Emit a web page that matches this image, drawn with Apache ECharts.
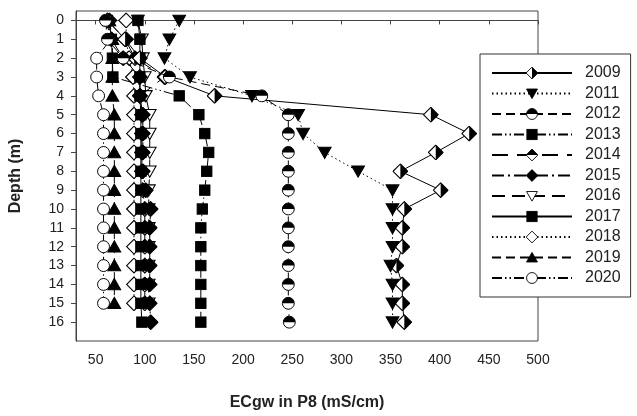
<!DOCTYPE html>
<html><head><meta charset="utf-8">
<script src="https://cdn.jsdelivr.net/npm/echarts@6/dist/echarts.min.js"></script>
<style>html,body{margin:0;padding:0;background:#fff}#c{width:637px;height:416px}</style>
</head><body><div id="c"></div>
<script>
const depths = [0,1,2,3,4,5,6,7,8,9,10,11,12,13,14,15,16];
const xTicks = [50,100,150,200,250,300,350,400,450,500];
const yTicks = [0,1,2,3,4,5,6,7,8,9,10,11,12,13,14,15,16];
const years = ['2009','2011','2012','2013','2014','2015','2016','2017','2018','2019','2020'];
const ec2009 = [62,80,95,121,171,391,430,396,360,401,364,362,362,356,362,362,364];
const ec2011 = [135,125,120,146,209,256,261,283,317,352,352,352,352,350,352,352,352];
const ec2012 = [60,62,78,125,219,246,246,246,246,246,246,246,246,246,246,246,247];
const ec2013 = [62,66,67,67.5,135,155,161,165,163,161,158.5,157,157,157,157,157,157];
const ec2014 = [62,80,90,120,95,97,97,97,97,98,100,100,100,100,100,100,null];
const ec2015 = [64,66,78,95,95,98,98,98,98,101,106,105,105,105,105,105,106];
const ec2016 = [93,97,98,100,101,105,105,105,105,104,104,104,104,104,104,104,null];
const ec2017 = [93,95,95,95,95,96,96,96,96,96,96,96,96,96,96,96,97];
const ec2018 = [81,81,84,88,89,89,89,89,89,89,89,89,89,89,89,89,null];
const ec2019 = [64,67,67,67,67,69,69,69,69,69,69,69,69,69,69,69,null];
const ec2020 = [61,65,51,51,53,58,58,58,58,58,58,58,58,58,58,58,null];
const seriesValues = [ec2009,ec2011,ec2012,ec2013,ec2014,ec2015,ec2016,ec2017,ec2018,ec2019,ec2020];

function svg(inner){
  return 'image://data:image/svg+xml;charset=utf-8,' + encodeURIComponent(
    '<svg xmlns="http://www.w3.org/2000/svg" width="40" height="40" viewBox="0 0 20 20">' + inner + '</svg>');
}
const D = '10,0.8 19.2,10 10,19.2 0.8,10';
const SW = 'stroke="#000" stroke-width="1.4" stroke-linejoin="miter"';
const sym = {
  '2009': svg(`<polygon points="${D}" fill="#fff"/><polygon points="10,0.8 19.2,10 10,19.2" fill="#000"/><polygon points="${D}" fill="none" ${SW}/>`),
  '2011': svg(`<polygon points="1.5,3 18.5,3 10,18" fill="#000" ${SW}/>`),
  '2012': svg(`<circle cx="10" cy="10" r="8.5" fill="#fff"/><path d="M1.5,10 A8.5,8.5 0 0 1 18.5,10 Z" fill="#000"/><circle cx="10" cy="10" r="8.5" fill="none" ${SW}/>`),
  '2013': svg(`<rect x="2" y="2" width="16" height="16" fill="#000" ${SW}/>`),
  '2014': svg(`<polygon points="${D}" fill="#fff"/><polygon points="0.8,10 10,0.8 19.2,10" fill="#000"/><polygon points="${D}" fill="none" ${SW}/>`),
  '2015': svg(`<polygon points="${D}" fill="#000" ${SW}/>`),
  '2016': svg(`<polygon points="1.5,3 18.5,3 10,18" fill="#fff" ${SW}/>`),
  '2017': svg(`<rect x="2" y="2" width="16" height="16" fill="#000" ${SW}/>`),
  '2018': svg(`<polygon points="${D}" fill="#fff" ${SW}/>`),
  '2019': svg(`<polygon points="10,2 18.5,17 1.5,17" fill="#000" ${SW}/>`),
  '2020': svg(`<circle cx="10" cy="10" r="8.5" fill="#fff" ${SW}/>`)
};
const symSize = {'2009':16,'2011':15,'2012':14,'2013':13,'2014':16,'2015':16,'2016':15,'2017':13,'2018':16,'2019':15,'2020':14};
const dash = {
  '2009':'solid','2011':[1.5,3],'2012':[9,5],'2013':[10,3,1.5,3,1.5,3],'2014':[16,9],
  '2015':[12,4,2,4],'2016':[13,7],'2017':'solid','2018':[1.5,3],'2019':[9,5],'2020':[10,3,1.5,3,1.5,3]
};
const zOrder = {'2009':5,'2011':5,'2012':6,'2013':4,'2014':4,'2015':4,'2016':3,'2017':4,'2018':3,'2019':3,'2020':2};

const series = years.map((y,i)=>({
  name: y, type: 'line', z: zOrder[y],
  data: seriesValues[i].map((v,j)=> v==null ? null : [v, depths[j]]),
  symbol: sym[y], symbolSize: symSize[y],
  showAllSymbol: true,
  lineStyle: {color:'#000', width:1, type: dash[y]},
  itemStyle: {color:'#000'},
  connectNulls: false,
  animation: false
}));

const chart = echarts.init(document.getElementById('c'), null, {renderer:'canvas'});
chart.setOption({
  animation: false,
  backgroundColor: '#fff',
  textStyle: {fontFamily: 'Liberation Sans, Arial, sans-serif'},
  grid: {left:72, right:99, top:11, bottom:70, show:true, borderColor:'#444', borderWidth:1, backgroundColor:'transparent'},
  xAxis: {
    type:'value', min:30, max:500,
    name:'ECgw in P8 (mS/cm)', nameLocation:'middle', nameGap:54,
    nameTextStyle:{fontSize:16, fontWeight:'bold', color:'#222', fontFamily:'Liberation Sans'},
    axisLine:{show:true, lineStyle:{color:'#444'}},
    axisTick:{show:true, length:4, customValues:xTicks, lineStyle:{color:'#444'}},
    axisLabel:{customValues:xTicks, fontSize:14, color:'#222', margin:12, fontFamily:'Liberation Sans'},
    splitLine:{show:false}
  },
  yAxis: {
    type:'value', min:-0.5, max:17, inverse:true,
    name:'Depth (m)', nameLocation:'middle', nameGap:52,
    nameTextStyle:{fontSize:16, fontWeight:'bold', color:'#222', fontFamily:'Liberation Sans'},
    axisLine:{show:true, lineStyle:{color:'#444'}},
    axisTick:{show:true, length:5, customValues:yTicks, lineStyle:{color:'#444'}},
    axisLabel:{customValues:yTicks, fontSize:14, color:'#222', margin:12, fontFamily:'Liberation Sans'},
    splitLine:{show:false}
  },
  legend: {
    orient:'vertical', left:480, top:54, z:20,
    padding:[11,10,11,11],
    itemWidth:80, itemHeight:16, itemGap:4.5,
    backgroundColor:'#fff', borderColor:'#333', borderWidth:1,
    textStyle:{fontSize:16, color:'#222', padding:[0,0,0,8], fontFamily:'Liberation Sans'},
    data: years
  },
  series: series
});
</script>
</body></html>
